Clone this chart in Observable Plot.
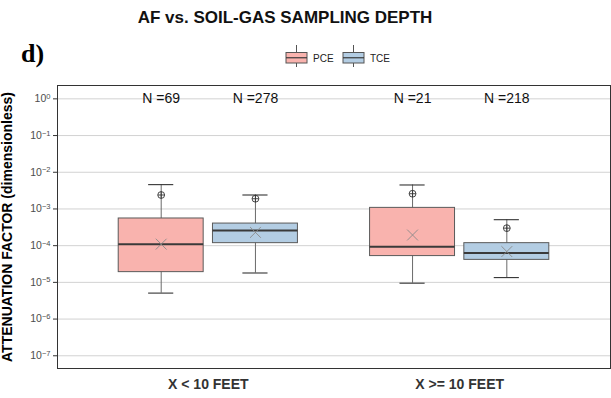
<!DOCTYPE html>
<html>
<head>
<meta charset="utf-8">
<script src="https://cdn.jsdelivr.net/npm/d3@7"></script>
<script src="https://cdn.jsdelivr.net/npm/@observablehq/plot@0.6"></script>
<style>
  html, body { margin: 0; padding: 0; background: #fff; }
  body { width: 611px; height: 398px; overflow: hidden; font-family: "Liberation Sans", Arial, sans-serif; }
  #header { position: relative; height: 75px; }
  #title { position: absolute; left: 0; width: 570px; top: 8px; text-align: center;
           font-weight: bold; font-size: 17px; color: #111; }
  #panel-tag { position: absolute; left: 21px; top: 39px; font-family: "Liberation Serif", "Times New Roman", serif;
               font-weight: bold; font-size: 26px; color: #000; }
  #legend { position: absolute; left: 0; top: 0; }
  #chart svg { display: block; }
</style>
</head>
<body>
<div id="header">
  <div id="title">AF vs. SOIL-GAS SAMPLING DEPTH</div>
  <div id="panel-tag">d)</div>
  <svg id="legend" width="611" height="75"></svg>
</div>
<div id="chart"></div>
<script>
// Sampling-depth groups and compounds
const groups = ["X < 10 FEET", "X >= 10 FEET"];
const compounds = ["PCE", "TCE"];

// Box statistics, ordered: <10 ft PCE, <10 ft TCE, >=10 ft PCE, >=10 ft TCE
const sampleCounts = [69, 278, 21, 218];
const whiskerLow  = [5.1e-6, 1.8e-5, 9.5e-6, 1.35e-5];
const quartile1   = [1.9e-5, 1.17e-4, 5.2e-5, 4.1e-5];
const medians     = [1.1e-4, 2.6e-4, 9.3e-5, 6.3e-5];
const quartile3   = [5.5e-4, 4.0e-4, 1.07e-3, 1.17e-4];
const whiskerHigh = [4.6e-3, 2.4e-3, 4.5e-3, 5.1e-4];
const markedPoints = [2.4e-3, 1.9e-3, 2.6e-3, 3.0e-4];
const means       = [1.1e-4, 2.3e-4, 1.95e-4, 6.9e-5];

// Log-axis ticks
const yTicks = [1e0, 1e-1, 1e-2, 1e-3, 1e-4, 1e-5, 1e-6, 1e-7];

const fillColors = { PCE: "#F9B3AE", TCE: "#B3CDE3" };

// Dodged layout: groups sit at 1 and 2, compounds side by side
const dodge = 0.1875, halfBox = 0.169, halfCap = 0.05;
const rows = sampleCounts.map((n, i) => {
  const gi = Math.floor(i / 2), ci = i % 2;
  const center = gi + 1 + (ci ? dodge : -dodge);
  return {
    group: groups[gi], compound: compounds[ci], n,
    center, left: center - halfBox, right: center + halfBox,
    capLeft: center - halfCap, capRight: center + halfCap,
    lo: whiskerLow[i], q1: quartile1[i], med: medians[i], q3: quartile3[i],
    hi: whiskerHigh[i], point: markedPoints[i], mean: means[i]
  };
});

// Circle with a cross inside
const circlePlus = {
  draw(context, size) {
    const r = Math.sqrt(size / Math.PI);
    context.moveTo(r, 0);
    context.arc(0, 0, r, 0, 2 * Math.PI);
    context.moveTo(-r, 0); context.lineTo(r, 0);
    context.moveTo(0, -r); context.lineTo(0, r);
  }
};

const chart = Plot.plot({
  width: 611,
  height: 323,
  marginTop: 10,
  marginBottom: 30,
  marginLeft: 57,
  marginRight: 1,
  style: { fontFamily: "'Liberation Sans', Arial, sans-serif", background: "#fff", overflow: "visible" },
  x: { type: "linear", domain: [0.4, 2.6] },
  y: { type: "log", domain: [4.5e-8, 2.31] },
  marks: [
    Plot.ruleY(yTicks, { stroke: "#d2d2d2", strokeWidth: 1 }),
    Plot.ruleX(rows, { x: "center", y1: "lo", y2: "hi", stroke: "#6a6a6a", strokeWidth: 1 }),
    Plot.ruleY(rows, { y: "hi", x1: "capLeft", x2: "capRight", stroke: "#333", strokeWidth: 1.1 }),
    Plot.ruleY(rows, { y: "lo", x1: "capLeft", x2: "capRight", stroke: "#333", strokeWidth: 1.1 }),
    Plot.rectY(rows, { x1: "left", x2: "right", y1: "q1", y2: "q3",
      fill: d => fillColors[d.compound], stroke: "#5a5a5a", strokeWidth: 1 }),
    Plot.ruleY(rows, { y: "med", x1: "left", x2: "right", stroke: "#3a3a3a", strokeWidth: 2 }),
    Plot.dot(rows, { x: "center", y: "point", symbol: circlePlus, r: 3.4, fill: "none", stroke: "#333", strokeWidth: 0.9 }),
    Plot.dot(rows, { x: "center", y: "mean", symbol: "times", r: 5, stroke: "#8a8a8a", strokeWidth: 0.9 }),
    Plot.text(rows, { x: "center", y: () => 1, text: d => `N =${d.n}`, fontSize: 14, fill: "#111" }),
    Plot.frame({ stroke: "#333", strokeWidth: 1 }),
    Plot.axisY({
      ticks: yTicks,
      tickFormat: d => `10^${Math.round(Math.log10(d))}`,
      tickSize: 4, tickPadding: 3, fontSize: 10.5,
      label: "ATTENUATION FACTOR (dimensionless)", labelAnchor: "center", labelOffset: 55
    }),
    Plot.axisX({
      ticks: [1, 2],
      tickFormat: d => groups[d - 1],
      tickSize: 0, tickPadding: 11, fontSize: 14, label: null
    })
  ]
});

// Superscript exponents on the log tick labels
d3.select(chart).selectAll('g[aria-label="y-axis tick label"] text').each(function () {
  const [base, exp] = this.textContent.split("^");
  const t = d3.select(this).attr("fill", "#4d4d4d");
  t.text(null);
  t.append("tspan").text(base);
  t.append("tspan").attr("dy", "-0.45em").attr("font-size", "0.72em").text(exp.replace("-", "\u2212"));
});
d3.select(chart).selectAll('g[aria-label="y-axis tick"] path').attr("stroke", "#333");
d3.select(chart).selectAll('g[aria-label="y-axis label"] text')
  .text(function () { return this.textContent.replace(/\s*[\u2191\u2193\u2190\u2192]\s*/g, ""); })
  .attr("font-weight", "bold").attr("font-size", 14).attr("fill", "#000");
d3.select(chart).selectAll('g[aria-label="x-axis tick label"] text')
  .attr("font-weight", "bold").attr("fill", "#333");

document.getElementById("chart").appendChild(chart);

// Legend: small box-plot keys for each compound
const legend = d3.select("#legend");
const keyX = { PCE: 286, TCE: 343 };
compounds.forEach(c => {
  const x0 = keyX[c], w = 21;
  const g = legend.append("g");
  g.append("line").attr("x1", x0 + w / 2).attr("x2", x0 + w / 2).attr("y1", 45).attr("y2", 67)
    .attr("stroke", "#555");
  g.append("rect").attr("x", x0).attr("y", 52.5).attr("width", w).attr("height", 10.5)
    .attr("fill", fillColors[c]).attr("stroke", "#555");
  g.append("line").attr("x1", x0).attr("x2", x0 + w).attr("y1", 57.75).attr("y2", 57.75)
    .attr("stroke", "#3a3a3a").attr("stroke-width", 1.2);
  g.append("text").attr("x", x0 + w + 6).attr("y", 61.5).attr("font-size", 10)
    .attr("font-family", "'Liberation Sans', Arial, sans-serif").attr("fill", "#222").text(c);
});
</script>
</body>
</html>
